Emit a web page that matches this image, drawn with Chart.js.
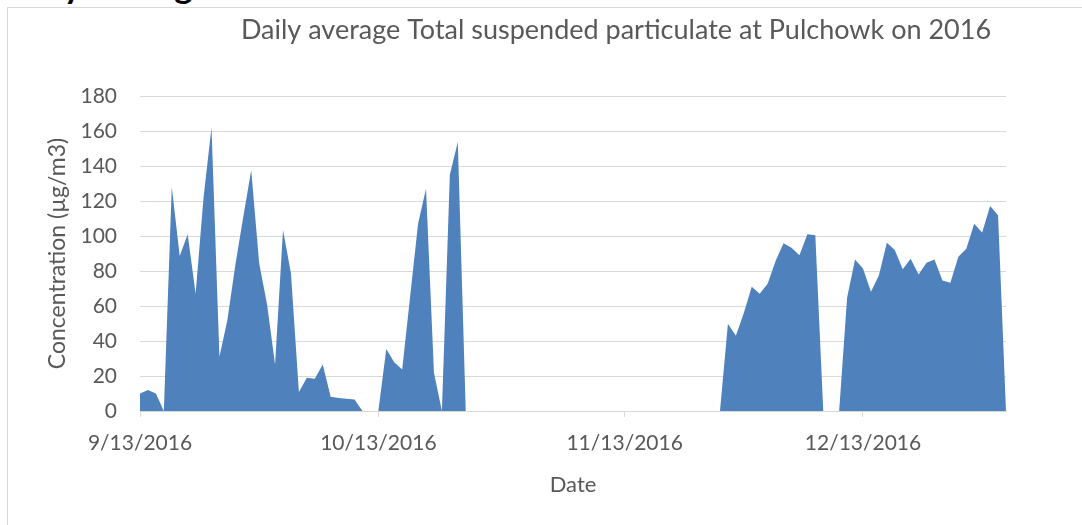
<!DOCTYPE html>
<html>
<head>
<meta charset="utf-8">
<script src="https://cdn.jsdelivr.net/npm/chart.js@4.4.1/dist/chart.umd.min.js"></script>
<style>
  html, body { margin: 0; padding: 0; background: #ffffff; overflow: hidden; }
  body { width: 1082px; height: 525px; position: relative; }
  #frame { position: absolute; left: 7px; top: 7px; width: 1200px; height: 700px; border: 1px solid #d9d9d9; box-sizing: border-box; }
  #heading { position: absolute; left: 2px; top: -36px; font: bold 35px Lato, sans-serif; line-height: 40px; color: #000; white-space: nowrap; }
  #c { position: absolute; left: 0; top: 0; }
</style>
</head>
<body>
<div id="heading">Daily average of TSP</div>
<div id="frame"></div>
<canvas id="c" width="1082" height="525"></canvas>
<script>
// ---- data ----
const startDay = [2016, 8, 13]; // 9/13/2016 (month index 8)
const dayCount = 110;           // 9/13/2016 .. 12/31/2016
const tickLabels = ['9/13/2016', '10/13/2016', '11/13/2016', '12/13/2016'];
const tspValues = [
  10, 12, 10, 0, 128, 88.6, 101, 67, 122, 162,
  31, 52, 83.5, 111, 137.6, 84.4, 60.7, 26.6, 103.4, 78.7,
  10.8, 19, 18.4, 26.6, 8.2, 7.4, 7, 6.6, 0, 0,
  0, 35.5, 27.9, 23.7, 65.5, 107, 127, 21.8, 0, 135,
  153.7, 0, 0, 0, 0, 0, 0, 0, 0, 0,
  0, 0, 0, 0, 0, 0, 0, 0, 0, 0,
  0, 0, 0, 0, 0, 0, 0, 0, 0, 0,
  0, 0, 0, 0, 49.8, 43, 56, 71, 67, 72.7,
  85.7, 95.8, 93.3, 89, 101, 100.4, 0, 0, 0, 64.7,
  86.6, 81.5, 68.1, 77.5, 96.2, 92, 81, 87, 78, 84.7,
  86.6, 74.6, 73.3, 88.2, 92.7, 107, 102, 117.2, 111.8, 0
];
const yTicks = { min: 0, max: 180, step: 20 };
const chartTitle = 'Daily average Total suspended particulate at Pulchowk on 2016';
const xTitle = 'Date';
const yTitle = 'Concentration (\u00b5g/m3)';

// categories: every calendar day
const dateLabels = [];
for (let i = 0; i < dayCount; i++) {
  const d = new Date(startDay[0], startDay[1], startDay[2] + i);
  dateLabels.push((d.getMonth() + 1) + '/' + d.getDate() + '/' + d.getFullYear());
}

const textColor = '#595959';
const fontFamily = 'Lato, "Open Sans", sans-serif';

const titlePlugin = {
  id: 'excelTitle',
  afterDraw(chart) {
    const ctx = chart.ctx;
    ctx.save();
    ctx.fillStyle = textColor;
    ctx.font = '400 27px ' + fontFamily;
    ctx.textAlign = 'center';
    ctx.textBaseline = 'alphabetic';
    ctx.fillText(chartTitle, 616, 39);
    ctx.restore();
  }
};

new Chart(document.getElementById('c'), {
  type: 'line',
  data: {
    labels: dateLabels,
    datasets: [{
      label: 'TSP',
      data: tspValues,
      fill: 'origin',
      backgroundColor: '#4f81bd',
      borderColor: '#4f81bd',
      borderWidth: 0,
      pointRadius: 0,
      pointHoverRadius: 0,
      tension: 0
    }]
  },
  options: {
    responsive: false,
    animation: false,
    devicePixelRatio: 1,
    layout: { padding: { left: 0, right: 76, top: 96, bottom: 0 } },
    plugins: {
      legend: { display: false },
      tooltip: { enabled: false },
      title: { display: false }
    },
    scales: {
      x: {
        type: 'category',
        offset: false,
        afterFit(scale) { scale.height = 114; },
        border: { display: true, color: '#d9d9d9', width: 1 },
        grid: {
          drawOnChartArea: false,
          drawTicks: true,
          tickLength: 6,
          color: (ctx) => (ctx.index !== undefined && tickLabels.includes(dateLabels[ctx.index])) ? '#d9d9d9' : 'rgba(0,0,0,0)'
        },
        ticks: {
          autoSkip: false,
          maxRotation: 0,
          minRotation: 0,
          padding: 14,
          color: textColor,
          font: { family: fontFamily, size: 21 },
          callback: (val, idx) => tickLabels.includes(dateLabels[idx]) ? dateLabels[idx] : ''
        },
        title: {
          display: true,
          text: xTitle,
          color: textColor,
          font: { family: fontFamily, size: 22 },
          padding: { top: 0, bottom: 27 }
        }
      },
      y: {
        min: yTicks.min,
        max: yTicks.max,
        afterFit(scale) { scale.width = 140; },
        border: { display: false },
        grid: { color: '#d9d9d9', lineWidth: 1, drawTicks: false },
        ticks: {
          stepSize: yTicks.step,
          padding: 23,
          color: textColor,
          font: { family: fontFamily, size: 21 }
        },
        title: {
          display: true,
          text: yTitle,
          color: textColor,
          font: { family: fontFamily, size: 23 },
          padding: { top: 44, bottom: 0 }
        }
      }
    }
  },
  plugins: [titlePlugin]
});
</script>
</body>
</html>
